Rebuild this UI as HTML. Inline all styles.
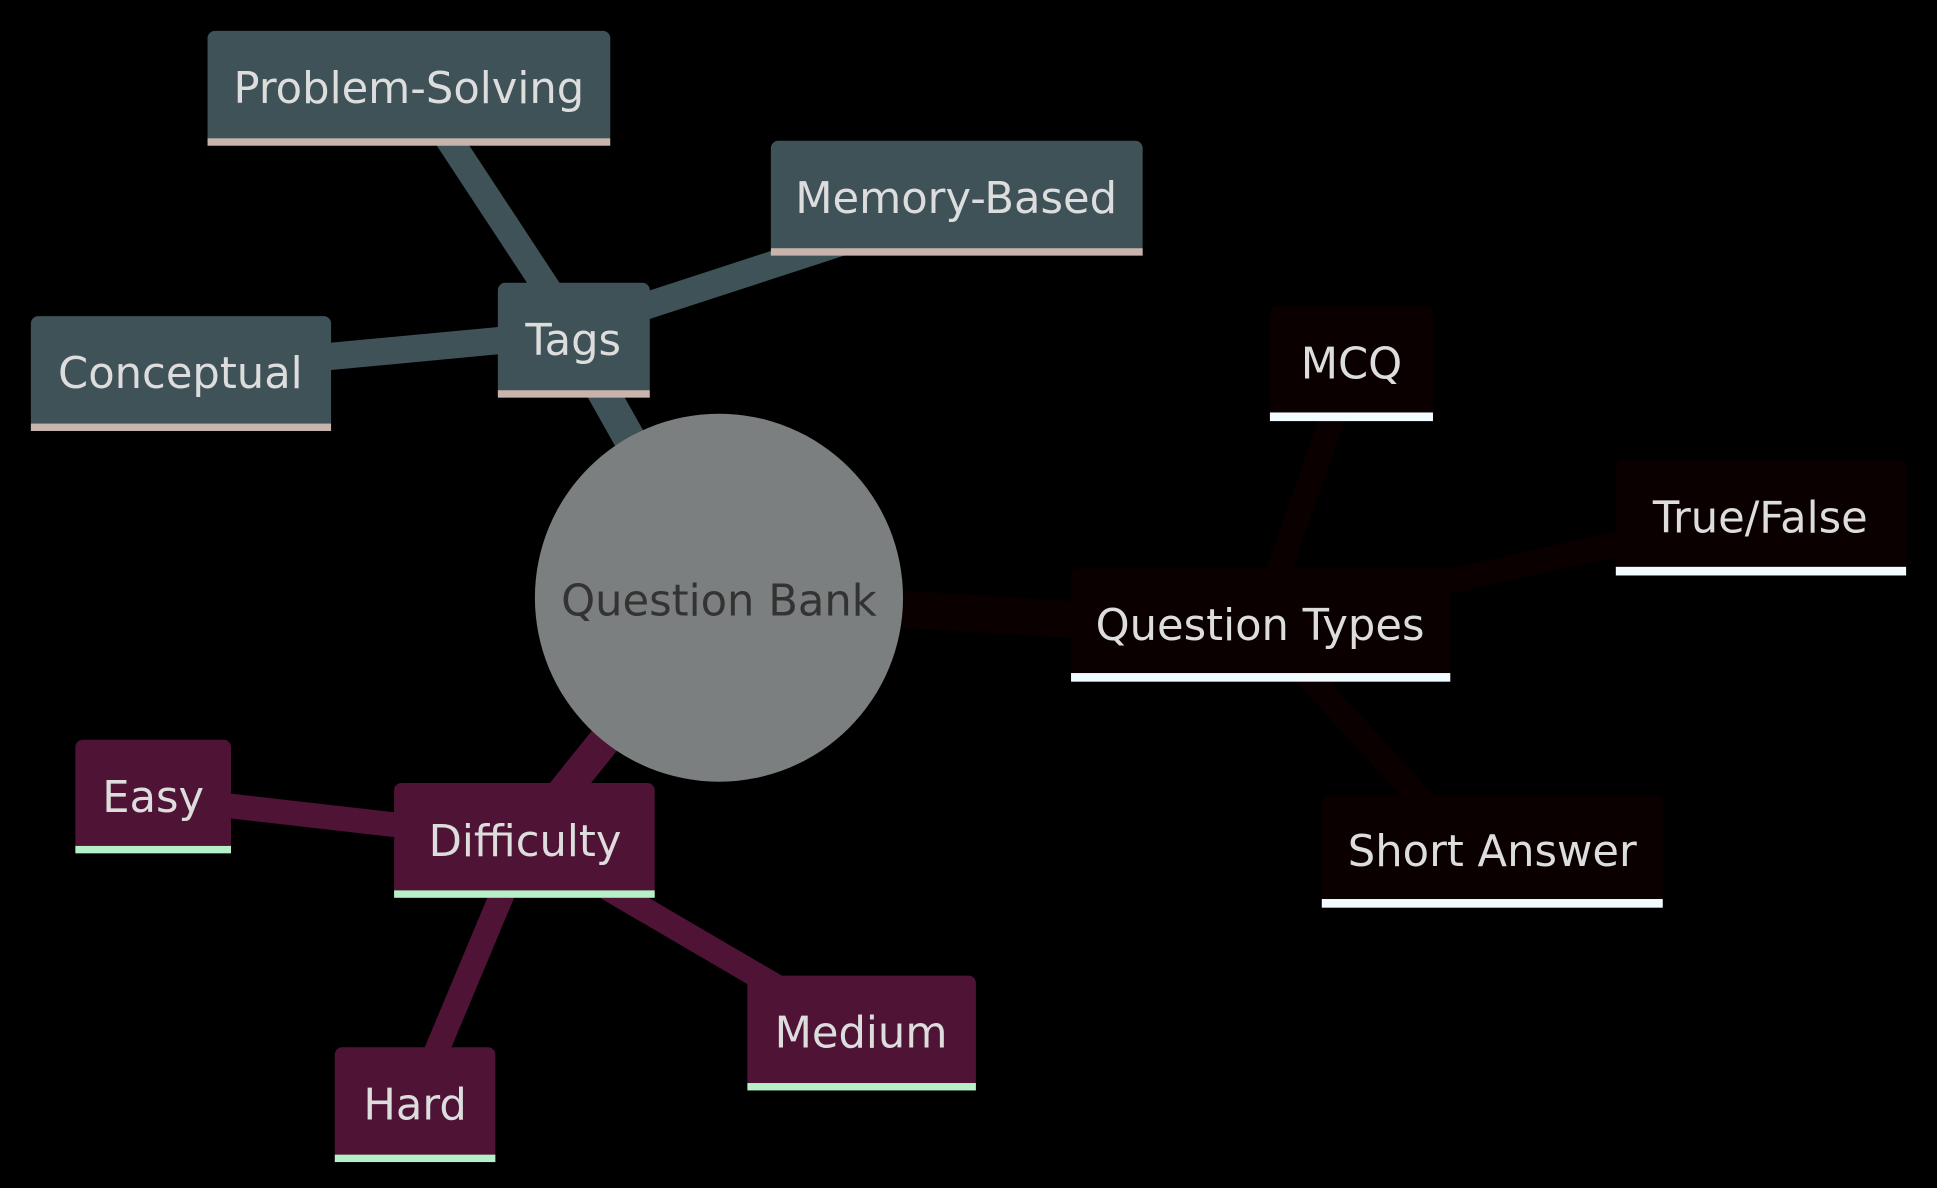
<!DOCTYPE html>
<html><head><meta charset="utf-8"><style>
html,body{margin:0;padding:0;background:#000;width:1937px;height:1188px;overflow:hidden}
svg{display:block}
text{font-family:"DejaVu Sans","Liberation Sans",sans-serif;font-size:35px;text-anchor:middle;dominant-baseline:central}
</style></head><body>
<svg width="1937" height="1188" viewBox="0 0 1568 962" preserveAspectRatio="none">
<rect width="1568" height="962" fill="#000"/>
<g stroke-linecap="butt" fill="none">
<!-- tags edges -->
<line x1="582" y1="484" x2="470" y2="285" stroke="#3f5258" stroke-width="26"/>
<line x1="470" y1="275" x2="355" y2="100" stroke="#3f5258" stroke-width="22"/>
<line x1="470" y1="265" x2="700" y2="190" stroke="#3f5258" stroke-width="22"/>
<line x1="465" y1="270" x2="200" y2="295" stroke="#3f5258" stroke-width="22"/>
<!-- question types edges -->
<line x1="582" y1="484" x2="1000" y2="510" stroke="#0a0000" stroke-width="30"/>
<line x1="1020" y1="505" x2="1085" y2="320" stroke="#0a0000" stroke-width="20"/>
<line x1="1020" y1="505" x2="1400" y2="420" stroke="#0a0000" stroke-width="20"/>
<line x1="1020" y1="505" x2="1180" y2="680" stroke="#0a0000" stroke-width="20"/>
<!-- difficulty edges -->
<line x1="582" y1="484" x2="425" y2="680" stroke="#4e1335" stroke-width="26"/>
<line x1="425" y1="680" x2="120" y2="645" stroke="#4e1335" stroke-width="20"/>
<line x1="425" y1="680" x2="690" y2="835" stroke="#4e1335" stroke-width="20"/>
<line x1="425" y1="680" x2="335" y2="895" stroke="#4e1335" stroke-width="20"/>
</g>
<circle cx="582" cy="484" r="149" fill="#7b7f7f"/>
<text x="582" y="487" fill="#333">Question Bank</text>
<g>
<rect x="168" y="25" width="326" height="92" rx="6" fill="#3f5258"/><rect x="168" y="112" width="326" height="6" fill="#c8b4ac"/>
<text x="331" y="72" fill="#ddd">Problem-Solving</text>
<rect x="624" y="114" width="301" height="92" rx="6" fill="#3f5258"/><rect x="624" y="201" width="301" height="6" fill="#c8b4ac"/>
<text x="774" y="161" fill="#ddd">Memory-Based</text>
<rect x="403" y="229" width="123" height="92" rx="6" fill="#3f5258"/><rect x="403" y="316" width="123" height="6" fill="#c8b4ac"/>
<text x="464" y="276" fill="#ddd">Tags</text>
<rect x="25" y="256" width="243" height="92" rx="6" fill="#3f5258"/><rect x="25" y="343" width="243" height="6" fill="#c8b4ac"/>
<text x="146" y="303" fill="#ddd">Conceptual</text>

<rect x="1028" y="248" width="132" height="92" rx="6" fill="#0a0000"/><rect x="1028" y="334" width="132" height="7" fill="#f2fbff"/>
<text x="1094" y="295" fill="#ddd">MCQ</text>
<rect x="1308" y="373" width="235" height="92" rx="6" fill="#0a0000"/><rect x="1308" y="459" width="235" height="7" fill="#f2fbff"/>
<text x="1425" y="420" fill="#ddd">True/False</text>
<rect x="867" y="460" width="307" height="92" rx="6" fill="#0a0000"/><rect x="867" y="545" width="307" height="7" fill="#f2fbff"/>
<text x="1020" y="507" fill="#ddd">Question Types</text>
<rect x="1070" y="644" width="276" height="91" rx="6" fill="#0a0000"/><rect x="1070" y="728" width="276" height="7" fill="#f2fbff"/>
<text x="1208" y="690" fill="#ddd">Short Answer</text>

<rect x="61" y="599" width="126" height="92" rx="6" fill="#4e1335"/><rect x="61" y="685" width="126" height="6" fill="#b6f0c8"/>
<text x="124" y="646" fill="#ddd">Easy</text>
<rect x="319" y="634" width="211" height="93" rx="6" fill="#4e1335"/><rect x="319" y="721" width="211" height="6" fill="#b6f0c8"/>
<text x="425" y="682" fill="#ddd">Difficulty</text>
<rect x="605" y="790" width="185" height="92" rx="6" fill="#4e1335"/><rect x="605" y="877" width="185" height="6" fill="#b6f0c8"/>
<text x="697" y="837" fill="#ddd">Medium</text>
<rect x="271" y="848" width="130" height="92" rx="6" fill="#4e1335"/><rect x="271" y="935" width="130" height="6" fill="#b6f0c8"/>
<text x="336" y="895" fill="#ddd">Hard</text>
</g>
</svg>
</body></html>
